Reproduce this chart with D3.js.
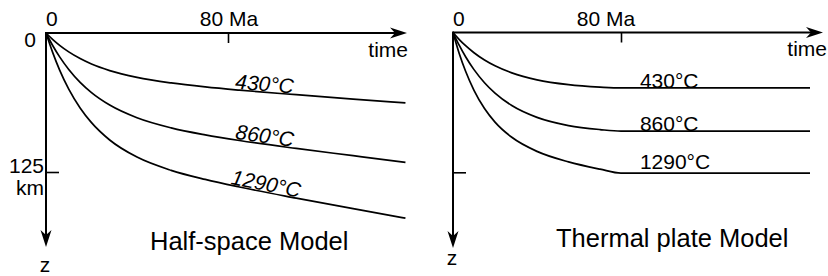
<!DOCTYPE html>
<html>
<head>
<meta charset="utf-8">
<script src="https://cdn.jsdelivr.net/npm/d3@7"></script>
<style>
  body { margin: 0; background: #fff; }
  svg { display: block; font-family: "Liberation Sans", Arial, sans-serif; }
</style>
</head>
<body>
<script>
// Isotherm depth (km) against plate age (Ma)
const isoLabels = ["430°C", "860°C", "1290°C"];

const halfTimes = [0, 3, 6, 10, 15, 20, 28, 40, 55, 70, 85, 110, 135, 158];
const half430   = [0, 5.9, 11.1, 17.0, 23.0, 27.9, 33.8, 39.9, 44.9, 48.5, 51.4, 55.5, 59.4, 62.9];
const half860   = [0, 11.5, 21.5, 32.8, 44.4, 53.6, 64.8, 76.2, 85.3, 91.6, 96.7, 103.8, 110.3, 116.3];
const half1290  = [0, 17.9, 33.4, 50.5, 67.4, 80.6, 96.2, 111.6, 123.5, 131.7, 138.5, 148.5, 158, 166.5];

const plateTimes = [0, 3, 6, 10, 15, 20, 28, 40, 55, 70, 80, 170];
const plate430   = [0, 6.3, 11.8, 18.1, 24.6, 29.8, 36.1, 42.3, 46.6, 48.8, 49.6, 49.6];
const plate860   = [0, 11.6, 21.7, 33.2, 44.9, 54.2, 65.3, 75.9, 83.2, 86.8, 88.2, 88.2];
const plate1290  = [0, 19.0, 34.7, 51.7, 68.0, 80.1, 93.7, 106.3, 115.7, 122.2, 125.8, 125.8];

const timeTick = 80;   // Ma
const depthTick = 125; // km

const width = 828, height = 276;
const fontSize = 21;

const svg = d3.select("body")
  .append("svg")
  .attr("width", width)
  .attr("height", height);

// layout of each panel (pixels)
const panels = [
  {
    times: halfTimes, series: [half430, half860, half1290],
    x0: 46, x80: 228, xTip: 407, y0: 33, y125: 172, yTip: 247,
    italic: true, labelT: [83, 83, 81], labelDy: [-1, -1, -1],
    title: "Half-space Model", titleX: 150, titleY: 250,
    maX: 1, timeDx: 1, zX: -1, zY: 272, depthLabels: true
  },
  {
    times: plateTimes, series: [plate430, plate860, plate1290],
    x0: 453, x80: 621, xTip: 823, y0: 32.5, y125: 172.3, yTip: 248,
    italic: false, labelT: [89, 89, 89], labelDy: [0, 0, -4.5],
    title: "Thermal plate Model", titleX: 556, titleY: 247,
    maX: -15, timeDx: 4, zX: -1, zY: 265, depthLabels: false
  }
];

panels.forEach(drawPanel);

function drawPanel(p) {
  const x = d3.scaleLinear().domain([0, timeTick]).range([p.x0, p.x80]);
  const y = d3.scaleLinear().domain([0, depthTick]).range([p.y0, p.y125]);
  const g = svg.append("g");

  // axis lines
  g.append("line")
    .attr("x1", p.x0).attr("y1", p.y0)
    .attr("x2", p.xTip - 8).attr("y2", p.y0)
    .attr("stroke", "#000").attr("stroke-width", 2);
  g.append("line")
    .attr("x1", p.x0).attr("y1", p.y0 - 1)
    .attr("x2", p.x0).attr("y2", p.yTip - 8)
    .attr("stroke", "#000").attr("stroke-width", 2);

  // arrow heads
  g.append("path")
    .attr("d", `M${p.xTip},${p.y0} L${p.xTip - 17},${p.y0 - 5.5} L${p.xTip - 12},${p.y0} L${p.xTip - 17},${p.y0 + 5.5}Z`)
    .attr("fill", "#000");
  g.append("path")
    .attr("d", `M${p.x0},${p.yTip} L${p.x0 - 5.5},${p.yTip - 17} L${p.x0},${p.yTip - 12} L${p.x0 + 5.5},${p.yTip - 17}Z`)
    .attr("fill", "#000");

  // ticks
  g.append("g")
    .attr("transform", `translate(0,${p.y0})`)
    .call(d3.axisBottom(x).tickValues([timeTick]).tickSize(10).tickFormat(""))
    .call(a => a.select(".domain").remove())
    .call(a => a.selectAll("line").attr("stroke-width", 1.6));
  g.append("g")
    .attr("transform", `translate(${p.x0},0)`)
    .call(d3.axisRight(y).tickValues([depthTick]).tickSize(13).tickFormat(""))
    .call(a => a.select(".domain").remove())
    .call(a => a.selectAll("line").attr("stroke-width", 1.6));

  // axis texts
  const txt = (s, tx, ty, anchor) => g.append("text")
    .attr("x", tx).attr("y", ty)
    .attr("text-anchor", anchor || "start")
    .attr("font-size", fontSize)
    .text(s);

  txt("0", x(0), p.y0 - 7);
  txt(`${timeTick} Ma`, x(timeTick) + p.maX, p.y0 - 7, "middle");
  txt("time", p.xTip + p.timeDx, p.y0 + 23.5, "end");
  txt("z", p.x0 + p.zX, p.zY, "middle");
  if (p.depthLabels) {
    txt("0", p.x0 - 10, p.y0 + 14, "end");
    txt(`${depthTick}`, p.x0 - 2, y(depthTick) + 1, "end");
    txt("km", p.x0 - 2, y(depthTick) + 23, "end");
  }

  // isotherm curves
  const line = d3.line()
    .x((d, i) => x(p.times[i]))
    .y(d => y(d))
    .curve(d3.curveMonotoneX);

  g.append("g")
    .selectAll("path")
    .data(p.series)
    .join("path")
    .attr("d", line)
    .attr("fill", "none")
    .attr("stroke", "#000")
    .attr("stroke-width", 1.7);

  // isotherm labels sitting on their curves
  p.series.forEach((s, i) => {
    const at = d3.scaleLinear().domain(p.times).range(s);
    const t = p.labelT[i];
    const lx = x(t), ly = y(at(t));
    const ang = Math.atan2(y(at(t + 25)) - ly, x(t + 25) - lx) * 180 / Math.PI;
    g.append("text")
      .attr("transform", `translate(${lx},${ly + p.labelDy[i]}) rotate(${ang})`)
      .attr("font-size", fontSize)
      .attr("font-style", p.italic ? "italic" : "normal")
      .text(isoLabels[i]);
  });

  // panel title
  g.append("text")
    .attr("x", p.titleX).attr("y", p.titleY)
    .attr("font-size", 25.5)
    .text(p.title);
}
</script>
</body>
</html>
